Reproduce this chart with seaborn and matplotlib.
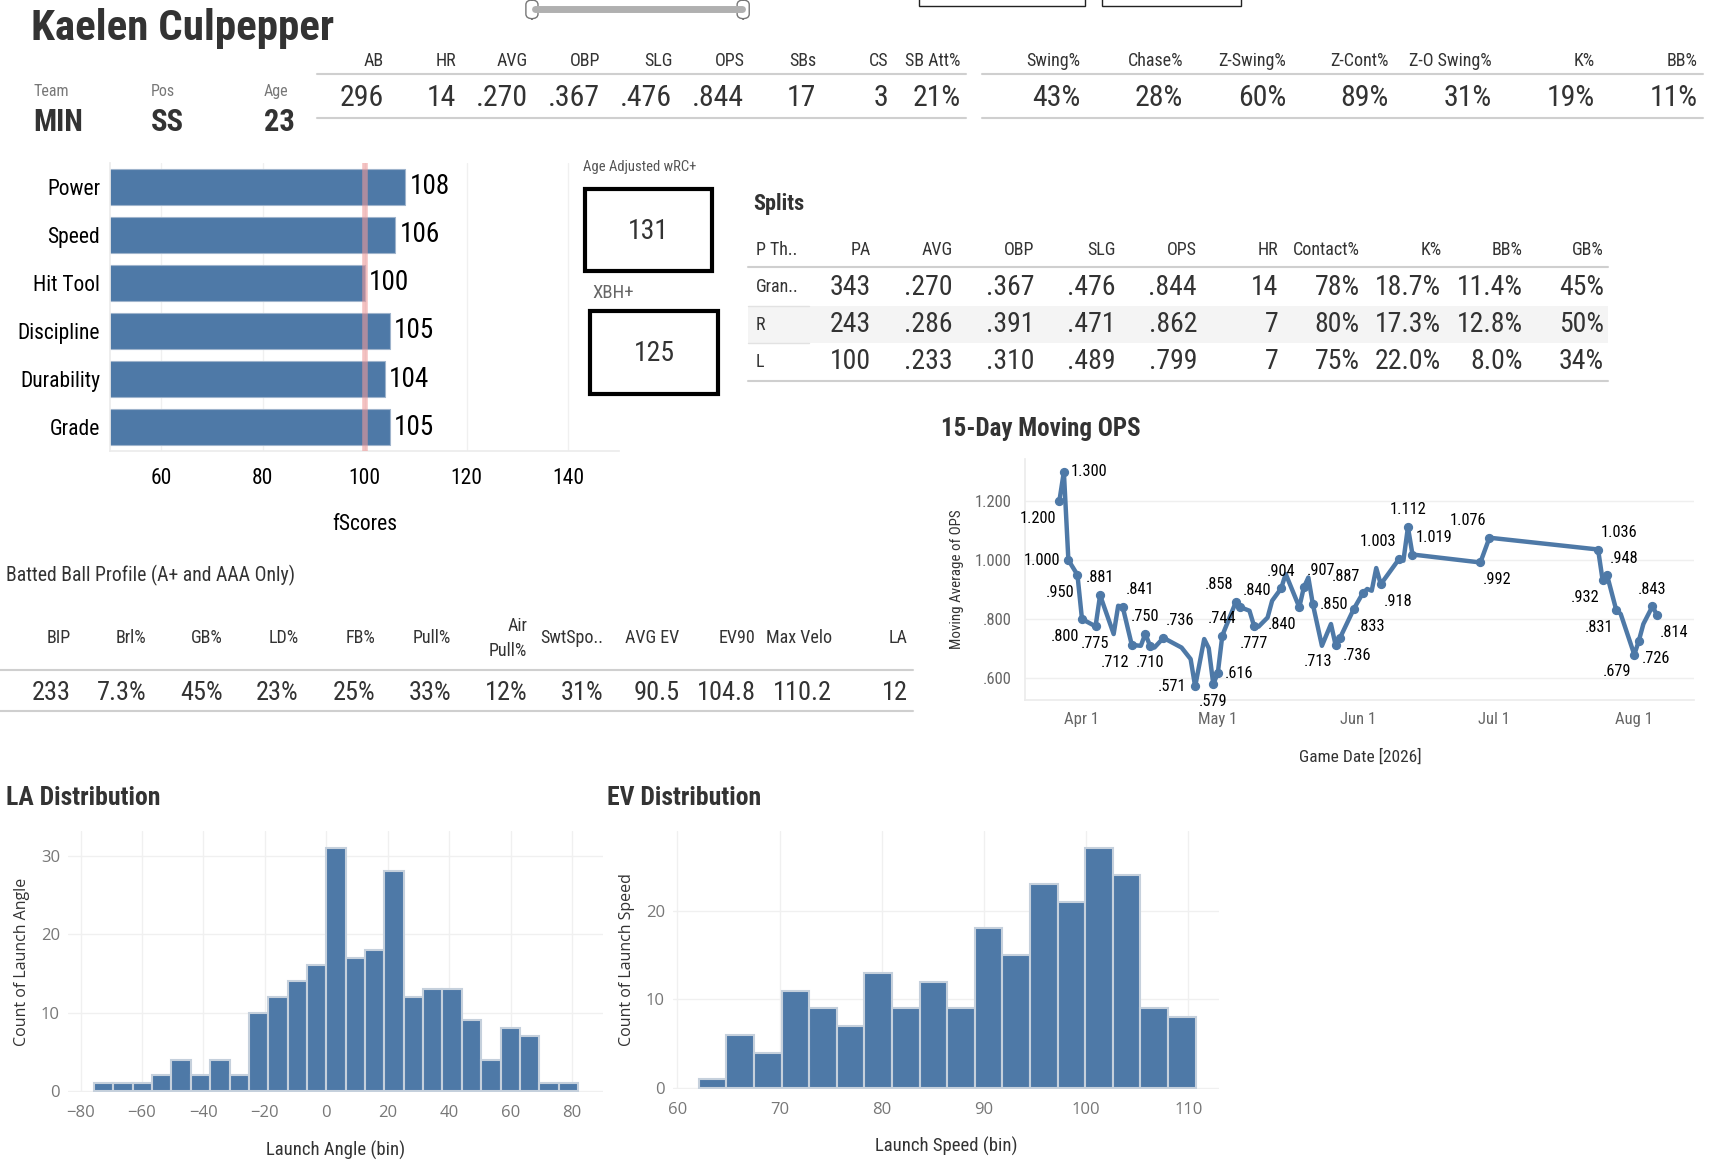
import numpy as np
import pandas as pd
import matplotlib
matplotlib.use("Agg")
import matplotlib.pyplot as plt
import matplotlib.dates as mdates
from matplotlib import font_manager as fm
from matplotlib.patches import Rectangle, FancyBboxPatch
from matplotlib.lines import Line2D
from matplotlib.ticker import FuncFormatter
import seaborn as sns

# %% data

player = "Kaelen Culpepper"
team, pos, age = "MIN", "SS", "23"

stat_cols = ["AB", "HR", "AVG", "OBP", "SLG", "OPS", "SBs", "CS", "SB Att%"]
stat_vals = ["296", "14", ".270", ".367", ".476", ".844", "17", "3", "21%"]
disc_cols = ["Swing%", "Chase%", "Z-Swing%", "Z-Cont%", "Z-O Swing%", "K%", "BB%"]
disc_vals = ["43%", "28%", "60%", "89%", "31%", "19%", "11%"]

tools = ["Power", "Speed", "Hit Tool", "Discipline", "Durability", "Grade"]
fscores = [108, 106, 100, 105, 104, 105]
wrc_plus = 131
xbh_plus = 125

split_cols = ["P Th..", "PA", "AVG", "OBP", "SLG", "OPS", "HR", "Contact%", "K%", "BB%", "GB%"]
split_rows = [
    ["Gran..", "343", ".270", ".367", ".476", ".844", "14", "78%", "18.7%", "11.4%", "45%"],
    ["R", "243", ".286", ".391", ".471", ".862", "7", "80%", "17.3%", "12.8%", "50%"],
    ["L", "100", ".233", ".310", ".489", ".799", "7", "75%", "22.0%", "8.0%", "34%"],
]

bb_cols = ["BIP", "Brl%", "GB%", "LD%", "FB%", "Pull%", "Air\nPull%", "SwtSpo..",
           "AVG EV", "EV90", "Max Velo", "LA"]
bb_vals = ["233", "7.3%", "45%", "23%", "25%", "33%", "12%", "31%", "90.5", "104.8", "110.2", "12"]

ops_dates = ["2026-03-27", "2026-03-28", "2026-03-29", "2026-03-31", "2026-04-01", "2026-04-04",
             "2026-04-05", "2026-04-08", "2026-04-09", "2026-04-10", "2026-04-12", "2026-04-14",
             "2026-04-15", "2026-04-16", "2026-04-17", "2026-04-19", "2026-04-23", "2026-04-25",
             "2026-04-26", "2026-04-28", "2026-04-29", "2026-04-30", "2026-05-01", "2026-05-02",
             "2026-05-05", "2026-05-06", "2026-05-08", "2026-05-09", "2026-05-10", "2026-05-12",
             "2026-05-13", "2026-05-15", "2026-05-16", "2026-05-19", "2026-05-20", "2026-05-21",
             "2026-05-22", "2026-05-24", "2026-05-26", "2026-05-27", "2026-05-28", "2026-05-31",
             "2026-06-02", "2026-06-03", "2026-06-04", "2026-06-05", "2026-06-06", "2026-06-10",
             "2026-06-11", "2026-06-12", "2026-06-13", "2026-06-28", "2026-06-30", "2026-07-24",
             "2026-07-25", "2026-07-26", "2026-07-28", "2026-07-29", "2026-08-01", "2026-08-02",
             "2026-08-03", "2026-08-05", "2026-08-06"]
ops_vals = [1.200, 1.300, 1.000, 0.950, 0.800, 0.775,
            0.881, 0.749, 0.845, 0.841, 0.712, 0.709,
            0.750, 0.710, 0.703, 0.736, 0.703, 0.664,
            0.571, 0.732, 0.701, 0.579, 0.616, 0.744,
            0.858, 0.840, 0.828, 0.777, 0.774, 0.805,
            0.862, 0.904, 0.953, 0.840, 0.907, 0.941,
            0.850, 0.709, 0.783, 0.713, 0.736, 0.833,
            0.887, 0.902, 0.896, 0.973, 0.918, 1.003,
            0.998, 1.112, 1.019, 0.992, 1.076, 1.036,
            0.932, 0.948, 0.831, 0.817, 0.679, 0.726,
            0.783, 0.843, 0.814]
ops_labels = ["1.200", "1.300", "1.000", ".950", ".800", ".775",
              ".881", "", "", ".841", ".712", "",
              ".750", ".710", "", ".736", "", "",
              ".571", "", "", ".579", ".616", ".744",
              ".858", ".840", "", ".777", "", "",
              "", ".904", "", ".840", ".907", "",
              ".850", "", "", ".713", ".736", ".833",
              ".887", "", "", "", ".918", "1.003",
              "", "1.112", "1.019", ".992", "1.076", "1.036",
              ".932", ".948", ".831", "", ".679", ".726",
              "", ".843", ".814"]

la_bins = [-75.6, -69.3, -63.0, -56.7, -50.4, -44.1, -37.8, -31.5, -25.2, -18.9, -12.6, -6.3,
           0.0, 6.3, 12.6, 18.9, 25.2, 31.5, 37.8, 44.1, 50.4, 56.7, 63.0, 69.3, 75.6]
la_counts = [1, 1, 1, 2, 4, 2, 4, 2, 10, 12, 14, 16, 31, 17, 18, 28, 12, 13, 13, 9, 4, 8, 7, 1, 1]
la_edges = la_bins + [81.9]

ev_bins = [62.1, 64.8, 67.5, 70.2, 72.9, 75.6, 78.3, 81.0, 83.7, 86.4, 89.1, 91.8,
           94.5, 97.2, 99.9, 102.6, 105.3, 108.0]
ev_counts = [1, 6, 4, 11, 9, 7, 13, 9, 12, 9, 18, 15, 23, 21, 27, 24, 9, 8]
ev_edges = ev_bins + [110.7]

# %% style

sns.set_theme(style="white")

# pick a condensed face if the box has one, else shrink DejaVu
ttf = fm.fontManager.ttflist
names = {f.name for f in ttf}
NARROW = None
STRETCH = "normal"
SF = 1.0
for n in ["Roboto Condensed", "Noto Sans Condensed", "Open Sans Condensed", "Liberation Sans Narrow",
          "DejaVu Sans Condensed", "Noto Sans Display Condensed"]:
    if n in names:
        NARROW = n
        break
if NARROW is None:
    for fam in ["Roboto", "Noto Sans", "Open Sans", "DejaVu Sans"]:
        if any(f.name == fam and f.stretch in ("condensed", "semi-condensed", "extra-condensed") for f in ttf):
            NARROW, STRETCH = fam, "condensed"
            break
if NARROW is None:
    NARROW, SF = "DejaVu Sans", 0.8

plt.rcParams["font.family"] = [NARROW, "DejaVu Sans"]
plt.rcParams["font.stretch"] = STRETCH
REG = ["Open Sans", "DejaVu Sans"]
INK = "#333333"
GREY = "#777777"
BLUE = "#4e79a7"
LINE = "#cfcfcf"

def fs(x):
    return x * SF

RW, RH = 1567.0, 1058.0

def fx(x):
    return x / RW

def fy(y):
    return 1 - y / RH

def box(x0, y0, x1, y1):
    return [x0 / RW, 1 - y1 / RH, (x1 - x0) / RW, (y1 - y0) / RH]

def hline(fig, x0, x1, y, color=LINE, lw=1.5):
    fig.add_artist(Line2D([fx(x0), fx(x1)], [fy(y), fy(y)], color=color, lw=lw))

fig = plt.figure(figsize=(17.24, 11.64), dpi=100)

# %% header

fig.text(fx(28), fy(26), player, fontsize=fs(31), weight="bold", color=INK, va="center")

# slider + filter boxes at the top
fig.add_artist(Line2D([fx(486), fx(674)], [fy(8), fy(8)], color="#b0b0b0", lw=5))
for x0 in (478, 670):
    fig.add_artist(FancyBboxPatch((fx(x0), fy(17)), fx(11), 17 / RH,
                                  boxstyle="round,pad=0,rounding_size=0.004",
                                  fc="white", ec="#777777", lw=1))
for x0, x1 in ((835, 986), (1002, 1128)):
    fig.add_artist(Rectangle((fx(x0), fy(5)), fx(x1 - x0), 20 / RH, fc="white", ec="#222222", lw=1))

for x, lab, val in ((30, "Team", team), (137, "Pos", pos), (240, "Age", age)):
    fig.text(fx(x), fy(83), lab, fontsize=fs(11.5), color=GREY, va="center")
    fig.text(fx(x), fy(111), val, fontsize=fs(22), weight="bold", color=INK, va="center")

for i, (c, v) in enumerate(zip(stat_cols, stat_vals)):
    xr = 349 + 65.5 * i
    fig.text(fx(xr), fy(55), c, fontsize=fs(13), color=INK, ha="right", va="center")
    fig.text(fx(xr), fy(89), v, fontsize=fs(21.5), color=INK, ha="right", va="center")
hline(fig, 288, 878, 67)
hline(fig, 288, 878, 107)

for i, (c, v) in enumerate(zip(disc_cols, disc_vals)):
    xr = 982 + 93.5 * i
    fig.text(fx(xr), fy(55), c, fontsize=fs(13), color=INK, ha="right", va="center")
    fig.text(fx(xr), fy(89), v, fontsize=fs(21.5), color=INK, ha="right", va="center")
hline(fig, 893, 1548, 67)
hline(fig, 893, 1548, 107)

# %% fScores bars

ax = fig.add_axes(box(100, 148, 563, 410))
sns.barplot(x=fscores, y=tools, orient="h", color=BLUE, saturation=1, width=0.75,
            edgecolor="#9fb4cc", linewidth=0.8, ax=ax)
ax.set_xlim(50, 150)
ax.set_xticks([60, 80, 100, 120, 140])
ax.grid(axis="x", color="#f0f0f0", lw=1)
ax.set_axisbelow(True)
ax.axvline(100, color="#ee9a9a", lw=4, alpha=0.6, zorder=3)
for i, v in enumerate(fscores):
    ax.text(v + 0.8, i, str(v), va="center", ha="left", fontsize=fs(19.5), color="black")
sns.despine(ax=ax, top=True, right=True)
for s in ("left", "bottom"):
    ax.spines[s].set_color("#ececec")
ax.tick_params(axis="y", length=0, labelsize=fs(15.5), colors="black", pad=7)
ax.tick_params(axis="x", length=0, labelsize=fs(15.5), colors="black", pad=12)
ax.set_xlabel("fScores", fontsize=fs(15.5), color="black", labelpad=18)
ax.set_ylabel("")

# %% wRC+ / XBH+ boxes

fig.text(fx(530), fy(152), "Age Adjusted wRC+", fontsize=fs(10.5), color="#555555", va="center")
fig.add_artist(Rectangle((fx(532), fy(246)), fx(647 - 532), (246 - 172) / RH, fc="none", ec="black", lw=3))
fig.text(fx(589.5), fy(210), str(wrc_plus), fontsize=fs(20), color=INK, ha="center", va="center")
fig.text(fx(538), fy(266), "XBH+", fontsize=fs(13.5), color="#666666", va="center")
fig.add_artist(Rectangle((fx(536), fy(358)), fx(653 - 536), (358 - 283) / RH, fc="none", ec="black", lw=3))
fig.text(fx(594.5), fy(321), str(xbh_plus), fontsize=fs(20), color=INK, ha="center", va="center")

# %% splits table

fig.text(fx(685), fy(185), "Splits", fontsize=fs(16), weight="bold", color=INK, va="center")
fig.add_artist(Rectangle((fx(680), fy(312)), fx(1462 - 680), 34 / RH, fc="#f4f4f4", ec="none"))
for j, c in enumerate(split_cols):
    if j == 0:
        fig.text(fx(687), fy(227), c, fontsize=fs(13), color=INK, ha="left", va="center")
    else:
        fig.text(fx(792 + 74 * (j - 1)), fy(227), c, fontsize=fs(13), color=INK, ha="right", va="center")
for r, row in enumerate(split_rows):
    yy = 261 + 34 * r
    for j, v in enumerate(row):
        if j == 0:
            fig.text(fx(687), fy(yy), v, fontsize=fs(13), color=INK, ha="left", va="center")
        else:
            fig.text(fx(792 + 74 * (j - 1)), fy(yy), v, fontsize=fs(20), color=INK, ha="right", va="center")
hline(fig, 680, 1462, 243)
hline(fig, 680, 1462, 346)
hline(fig, 680, 735, 278, color="#e2e2e2", lw=1)
hline(fig, 680, 735, 312, color="#e2e2e2", lw=1)

# %% batted ball profile

fig.text(fx(5), fy(523), "Batted Ball Profile (A+ and AAA Only)", fontsize=fs(14.2), color=INK, va="center")
for i, (c, v) in enumerate(zip(bb_cols, bb_vals)):
    xr = 64 + 69.2 * i
    fig.text(fx(xr), fy(580), c, fontsize=fs(13), color=INK, ha="right", va="center",
             multialignment="right", linespacing=1.5)
    fig.text(fx(xr), fy(630), v, fontsize=fs(19), color=INK, ha="right", va="center")
hline(fig, 0, 830, 609)
hline(fig, 0, 830, 646)

# %% 15-day moving OPS

ops = pd.DataFrame({"date": pd.to_datetime(ops_dates), "ops": ops_vals, "label": ops_labels})
fig.text(fx(855), fy(390), "15-Day Moving OPS", fontsize=fs(18), weight="bold", color=INK, va="center")
ax = fig.add_axes(box(932, 417, 1540, 636))
sns.lineplot(data=ops, x="date", y="ops", color=BLUE, lw=3.2, ax=ax)
lab = ops[ops["label"] != ""]
ax.scatter(lab["date"], lab["ops"], s=32, color=BLUE, zorder=4)

lab_pos = ["bl", "r", "l", "bl", "bl", "b", "a", "ar", "bl", "a", "b", "ar", "l", "b", "r", "a",
           "al", "ar", "b", "a", "bl", "ar", "r", "bl", "br", "br", "al", "br", "al", "a", "ar",
           "br", "al", "ar", "bl", "ar", "bl", "bl", "br", "a", "br"]
OFF = {"a": (0, 7, "center", "bottom"), "b": (0, -7, "center", "top"),
       "l": (-6, 0, "right", "center"), "r": (5, 0, "left", "center"),
       "al": (-2, 7, "right", "bottom"), "ar": (2, 7, "left", "bottom"),
       "bl": (-2, -7, "right", "top"), "br": (2, -7, "left", "top")}
for (d, v, t), p in zip(lab[["date", "ops", "label"]].itertuples(index=False), lab_pos):
    dx, dy, ha, va = OFF[p]
    ax.annotate(t, (d, v), xytext=(dx, dy), textcoords="offset points",
                ha=ha, va=va, fontsize=fs(11.8), color="black")

ax.set_xlim(pd.Timestamp("2026-03-19 12:00"), pd.Timestamp("2026-08-14 06:00"))
ax.set_ylim(0.526, 1.344)
ax.set_yticks([0.6, 0.8, 1.0, 1.2])
ax.yaxis.set_major_formatter(FuncFormatter(lambda v, p: f"{v:.3f}".lstrip("0")))
ax.xaxis.set_major_locator(mdates.MonthLocator(bymonth=[4, 5, 6, 7, 8]))
ax.xaxis.set_minor_locator(mdates.MonthLocator(bymonth=[3, 4, 5, 6, 7, 8], bymonthday=15))
ax.xaxis.set_major_formatter(FuncFormatter(lambda v, p: f"{mdates.num2date(v):%b} {mdates.num2date(v).day}"))
ax.grid(axis="y", color="#efefef", lw=1)
ax.set_axisbelow(True)
sns.despine(ax=ax, top=True, right=True)
for s in ("left", "bottom"):
    ax.spines[s].set_color("#ececec")
ax.tick_params(axis="y", length=0, labelsize=fs(12), colors="#666666", pad=10)
ax.tick_params(axis="x", which="major", length=5, color="#dddddd", labelsize=fs(12), labelcolor="#666666")
ax.tick_params(axis="x", which="minor", length=4, color="#e6e6e6")
ax.set_ylabel("Moving Average of OPS", fontsize=fs(10.8), color=INK, labelpad=8)
ax.set_xlabel("Game Date [2026]", fontsize=fs(12.5), color=INK, labelpad=16)

# %% launch angle / exit velo histograms

def hist_panel(rect, title, tx, bins, counts, edges, xlim, ylim, xticks, yticks, xlabel, ylabel):
    fig.text(fx(tx), fy(725), title, fontsize=fs(18.5), weight="bold", color=INK, va="center")
    ax = fig.add_axes(box(*rect))
    sns.histplot(x=bins, weights=counts, bins=edges, color=BLUE, alpha=1,
                 edgecolor="#c5d0dc", linewidth=1.5, ax=ax)
    ax.set_xlim(*xlim)
    ax.set_ylim(*ylim)
    ax.set_xticks(xticks)
    ax.set_yticks(yticks)
    ax.grid(True, color="#f0f0f0", lw=1)
    ax.set_axisbelow(True)
    sns.despine(ax=ax, left=True, bottom=True)
    ax.tick_params(axis="y", length=0, labelsize=12, colors="#777777", pad=6)
    ax.tick_params(axis="x", length=0, labelsize=12, colors="#777777", pad=9)
    for t in ax.get_xticklabels() + ax.get_yticklabels():
        t.set_family(REG)
    ax.set_xlabel(xlabel, fontsize=fs(13.5), color=INK, labelpad=14)
    ax.set_ylabel(ylabel, fontsize=11.5, color=INK, family=REG, labelpad=8)
    return ax

hist_panel((62, 755, 548, 993), "LA Distribution", 5, la_bins, la_counts, la_edges,
           (-84, 90), (-0.2, 33.2), [-80, -60, -40, -20, 0, 20, 40, 60, 80], [0, 10, 20, 30],
           "Launch Angle (bin)", "Count of Launch Angle")
hist_panel((612, 755, 1108, 990), "EV Distribution", 552, ev_bins, ev_counts, ev_edges,
           (59.6, 113), (-0.1, 29), [60, 70, 80, 90, 100, 110], [0, 10, 20],
           "Launch Speed (bin)", "Count of Launch Speed")

plt.savefig("out.png", dpi=100)
plt.close()
